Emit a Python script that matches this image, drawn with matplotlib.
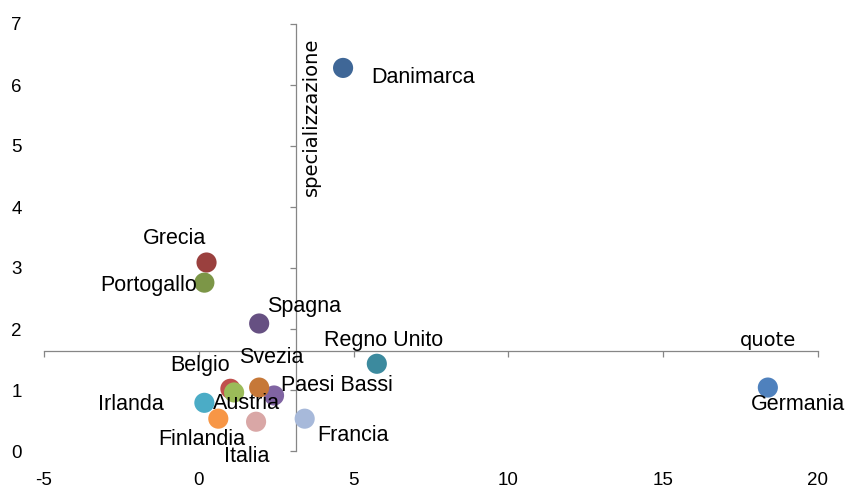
import numpy as np
import matplotlib.pyplot as plt

plt.rcParams['axes.unicode_minus'] = False

# data
countries = ['Germania', 'Belgio', 'Austria', 'Paesi Bassi', 'Irlanda', 'Finlandia',
             'Danimarca', 'Grecia', 'Portogallo', 'Spagna', 'Regno Unito', 'Svezia',
             'Italia', 'Francia']
quote = [18.38, 1.02, 1.14, 2.43, 0.18, 0.63,
         4.66, 0.25, 0.18, 1.95, 5.75, 1.95,
         1.85, 3.42]
specializzazione = [1.04, 1.02, 0.96, 0.91, 0.79, 0.53,
                    6.28, 3.09, 2.76, 2.09, 1.43, 1.04,
                    0.48, 0.53]
colors = ['#4F81BD', '#C0504D', '#9BBB59', '#8064A2', '#4BACC6', '#F79646',
          '#3F6797', '#9A403E', '#7C9647', '#665082', '#3C8A9E', '#C67838',
          '#D9A7A6', '#A7B9DA']

# label placement: (dx, dy) in points, horizontal alignment
label_pos = {
    'Germania': (22, -12, 'center'),
    'Belgio': (-22, 17, 'center'),
    'Austria': (9, -8, 'center'),
    'Paesi Bassi': (5, 7, 'left'),
    'Irlanda': (-29, -1, 'right'),
    'Finlandia': (-12, -15, 'center'),
    'Danimarca': (20, -7, 'left'),
    'Grecia': (-23, 17, 'center'),
    'Portogallo': (-5, -2, 'right'),
    'Spagna': (6, 12, 'left'),
    'Regno Unito': (5, 17, 'center'),
    'Svezia': (9, 22, 'center'),
    'Italia': (-7, -25, 'center'),
    'Francia': (9, -12, 'left'),
}

AXIS_GRAY = '#868686'
FONT = 'Liberation Sans'

fig = plt.figure(figsize=(8.5, 4.94), dpi=100)
rect = [44 / 850, 43 / 494, 774 / 850, 427 / 494]
ax = fig.add_axes(rect)
ax.set_xlim(-5, 20)
ax.set_ylim(0, 7)

# axes cross at the averages of the two series
x_cross = np.mean(quote)
y_cross = np.mean(specializzazione)
ax.spines['left'].set_position(('data', x_cross))
ax.spines['bottom'].set_position(('data', y_cross))
for s in ['top', 'right']:
    ax.spines[s].set_visible(False)
for s in ['left', 'bottom']:
    ax.spines[s].set_color(AXIS_GRAY)
    ax.spines[s].set_linewidth(0.9)
ax.set_xticks(np.arange(-5, 21, 5))
ax.set_yticks(np.arange(0, 8, 1))
ax.tick_params(axis='both', direction='out', length=4, width=0.9, color=AXIS_GRAY,
               labelleft=False, labelbottom=False)
ax.patch.set_visible(False)

# tick labels sit at the edges of the plot area
lab = fig.add_axes(rect, sharex=ax, sharey=ax)
lab.patch.set_visible(False)
for s in lab.spines.values():
    s.set_visible(False)
lab.tick_params(axis='both', length=0, labelsize=13.5)
lab.tick_params(axis='y', pad=16)
lab.tick_params(axis='x', pad=15)
for t in lab.get_xticklabels() + lab.get_yticklabels():
    t.set_fontfamily(FONT)
lab.set_zorder(0)
ax.set_zorder(1)

for name, x, y, c in zip(countries, quote, specializzazione, colors):
    ax.scatter(x, y, s=210, color=c, edgecolors='none', zorder=3)

for name, x, y in zip(countries, quote, specializzazione):
    dx, dy, ha = label_pos[name]
    ax.annotate(name, (x, y), xytext=(dx, dy), textcoords='offset points',
                ha=ha, va='center', fontsize=15.5, fontfamily=FONT, zorder=5)

fig.text(311 / 850, 1 - 117 / 494, 'specializzazione', rotation=90,
         ha='center', va='center', fontsize=14, fontfamily='DejaVu Sans')
fig.text(768 / 850, 1 - 340 / 494, 'quote', ha='center', va='center',
         fontsize=14, fontfamily='DejaVu Sans')

fig.savefig('out.png', dpi=100)
